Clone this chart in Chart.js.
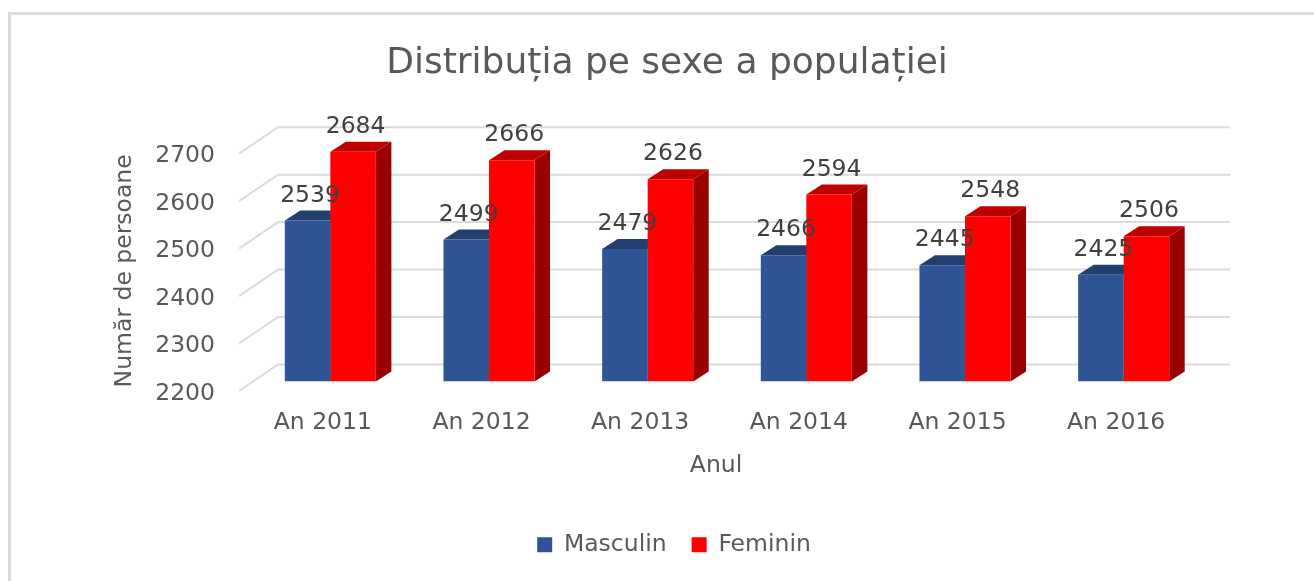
<!DOCTYPE html>
<html>
<head>
<meta charset="utf-8">
<title>Distribuția pe sexe a populației</title>
<script src="https://cdn.jsdelivr.net/npm/chart.js@4"></script>
<style>
  html, body { margin: 0; padding: 0; background: #fff; overflow: hidden; }
  #cadru { position: absolute; left: 8px; top: 12px; right: 0; bottom: 0; border-left: 3px solid #dcdcdc; border-top: 3px solid #dcdcdc; }
  #grafic { position: absolute; left: 0; top: 0; }
</style>
</head>
<body>
<div id="cadru"></div>
<canvas id="grafic" width="1314" height="581"></canvas>
<script>
var ani = ['An 2011', 'An 2012', 'An 2013', 'An 2014', 'An 2015', 'An 2016']
var masculin = [2539, 2499, 2479, 2466, 2445, 2425]
var feminin = [2684, 2666, 2626, 2594, 2548, 2506]
var titlu = 'Distribuția pe sexe a populației'
var titlu_x = 'Anul'
var titlu_y = 'Număr de persoane'

var font = '"DejaVu Sans", sans-serif'
var gri = '#595959'
// adancimea falsa 3D, in pixeli
var adancime_x = 15.5
var adancime_y = 10

var culori_fete = [
  { top: '#233f70', lateral: '#1f3864' },
  { top: '#bf0000', lateral: '#990000' }
]

// peretele din spate si podeaua, construite din scala y
var grila3d = {
  id: 'grila3d',
  afterLayout(chart) {
    // legenda e putin mai la dreapta decat titlul
    chart.legend.left += 7
    chart.legend.right += 7
  },
  beforeDatasetsDraw(chart) {
    var ctx = chart.ctx
    var zona = chart.chartArea
    var y = chart.scales.y
    ctx.save()
    ctx.strokeStyle = '#dcdcdc'
    ctx.lineWidth = 2
    y.ticks.forEach(function (t) {
      var py = y.getPixelForValue(t.value)
      ctx.beginPath()
      ctx.moveTo(zona.left - 12, py + 9.5)
      ctx.lineTo(zona.left + 27, py - 17)
      ctx.lineTo(zona.right + 27, py - 17)
      ctx.stroke()
    })

    // fetele de sus si din dreapta ale barelor
    chart.data.datasets.forEach(function (ds, i) {
      chart.getDatasetMeta(i).data.forEach(function (bara) {
        var st = bara.x - bara.width / 2
        var dr = bara.x + bara.width / 2
        ctx.fillStyle = culori_fete[i].lateral
        ctx.beginPath()
        ctx.moveTo(dr, bara.y)
        ctx.lineTo(dr + adancime_x, bara.y - adancime_y)
        ctx.lineTo(dr + adancime_x, bara.base - adancime_y)
        ctx.lineTo(dr, bara.base)
        ctx.closePath()
        ctx.fill()
        ctx.fillStyle = culori_fete[i].top
        ctx.beginPath()
        ctx.moveTo(st, bara.y)
        ctx.lineTo(st + adancime_x, bara.y - adancime_y)
        ctx.lineTo(dr + adancime_x, bara.y - adancime_y)
        ctx.lineTo(dr, bara.y)
        ctx.closePath()
        ctx.fill()
      })
    })
    ctx.restore()
  },
  afterDatasetsDraw(chart) {
    var ctx = chart.ctx
    ctx.save()
    ctx.font = '23.5px ' + font
    ctx.fillStyle = '#404040'
    ctx.textAlign = 'center'
    ctx.textBaseline = 'middle'
    chart.data.datasets.forEach(function (ds, i) {
      chart.getDatasetMeta(i).data.forEach(function (bara, j) {
        ctx.fillText(ds.data[j], bara.x + 2.5, bara.y - 25)
      })
    })

    // titlurile axelor sunt deplasate fata de centrul zonei, ca in original
    var zona = chart.chartArea
    ctx.fillStyle = gri
    ctx.fillText(titlu_x, (zona.left + zona.right) / 2 - 11, 466)
    ctx.translate(125, (zona.top + zona.bottom) / 2 + 8)
    ctx.rotate(-Math.PI / 2)
    ctx.fillText(titlu_y, 0, 0)
    ctx.restore()
  }
}

new Chart(document.getElementById('grafic').getContext('2d'), {
  type: 'bar',
  data: {
    labels: ani,
    datasets: [
      { label: 'Masculin', data: masculin, backgroundColor: '#2f5597' },
      { label: 'Feminin', data: feminin, backgroundColor: '#ff0000' }
    ]
  },
  options: {
    responsive: false,
    animation: false,
    layout: { padding: { left: 131, right: 111, bottom: 14.5 } },
    datasets: { bar: { categoryPercentage: 0.574, barPercentage: 1, base: 2200 } },
    plugins: {
      title: {
        display: true,
        text: titlu,
        color: gri,
        font: { family: font, size: 36, weight: 'normal' },
        padding: { top: 42, bottom: 59 }
      },
      legend: {
        position: 'bottom',
        labels: {
          boxWidth: 15,
          boxHeight: 15,
          padding: 25,
          color: gri,
          font: { family: font, size: 23.5 }
        }
      },
      tooltip: { enabled: false }
    },
    scales: {
      x: {
        grid: { display: false },
        border: { display: false },
        afterFit(s) { s.height = 126.5 },
        ticks: {
          color: gri,
          font: { family: font, size: 23.5 },
          padding: 19,
          labelOffset: -7.5,
          maxRotation: 0
        }
      },
      y: {
        min: 2200,
        max: 2700,
        grid: { display: false },
        border: { display: false },
        afterFit(s) { s.width = 120 },
        ticks: {
          stepSize: 100,
          format: { useGrouping: false },
          color: gri,
          font: { family: font, size: 23.5 },
          padding: 28,
          labelOffset: 12
        }
      }
    }
  },
  plugins: [grila3d]
})
</script>
</body>
</html>
